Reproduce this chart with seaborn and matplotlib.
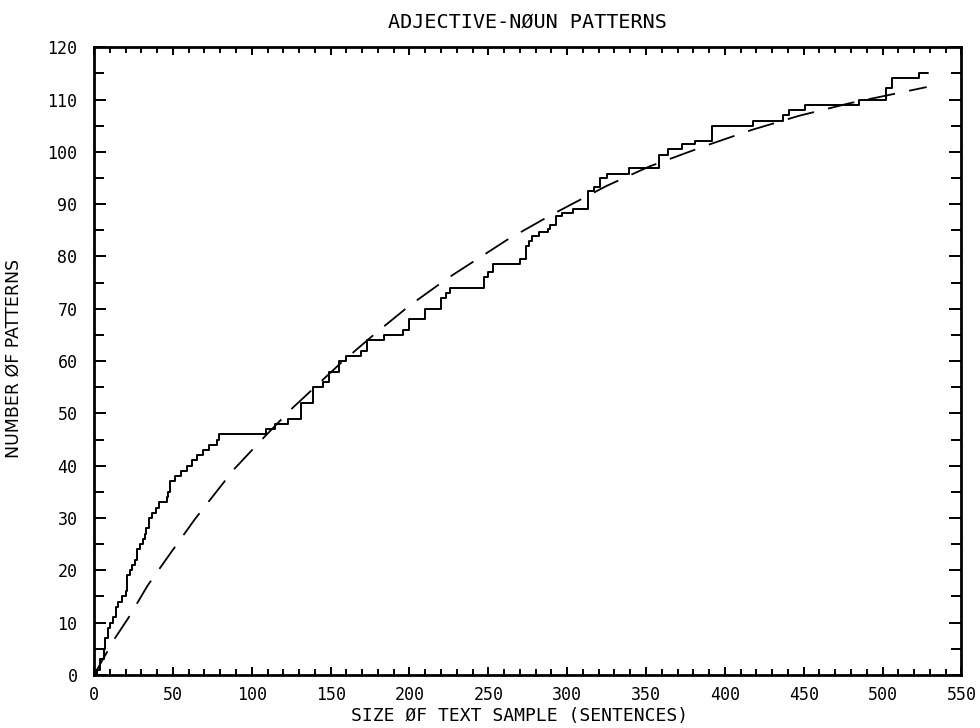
import pandas as pd
import seaborn as sns
from matplotlib import pyplot as plt
from matplotlib.ticker import MultipleLocator

# observed counts: sample size where the count steps up, and the new count
step_x = [0, 2, 4, 6, 7, 9, 10, 12, 14, 15, 18, 20, 21, 23, 24, 26, 27, 29, 31, 32,
          33, 35, 37, 39, 41, 46, 47, 48, 51, 55, 59, 62, 65, 69, 73, 78, 79, 109, 115, 123,
          131, 139, 145, 149, 155, 160, 169, 173, 184, 196, 200, 210, 220, 223, 226, 247, 250, 253, 270, 274,
          276, 278, 282, 288, 289, 293, 297, 304, 313, 317, 321, 325, 339, 358, 364, 373, 381, 392, 418, 437,
          441, 451, 485, 502, 506, 523, 529]
step_y = [0, 1, 3, 5, 7, 9, 10, 11, 13, 14, 15, 16, 19, 20, 21, 22, 24, 25, 26, 27,
          28, 30, 31, 32, 33, 34, 35, 37, 38, 39, 40, 41, 42, 43, 44, 45, 46, 47, 48, 49,
          52, 55, 56, 58, 60, 61, 62, 64, 65, 66, 68, 70, 72, 73, 74, 76, 77, 78.5, 79.5, 82,
          83, 84, 84.7, 85.3, 86, 87.7, 88.4, 89, 92.6, 93.2, 95, 95.8, 97, 99.5, 100.5, 101.5, 102, 105, 106, 107,
          108, 109, 110, 112.3, 114.2, 115, 115]

# fitted curve (dashed)
fit_x = [0, 13, 22, 34, 49, 64, 89, 108, 125, 156, 178, 200, 224, 262, 289,
         325, 352, 388, 417, 447, 479, 528]
fit_y = [0, 6.9, 11.0, 17.1, 23.5, 29.8, 39.4, 45.5, 50.8, 59.5, 65.2, 70.6, 75.8, 83.2, 87.8,
         93.5, 97.2, 101.2, 104.2, 106.9, 109.3, 112.4]

TITLE = 'ADJECTIVE-NØUN PATTERNS'
XLABEL = 'SIZE ØF TEXT SAMPLE (SENTENCES)'
YLABEL = 'NUMBER ØF PATTERNS'

sns.set_theme(style='ticks')
plt.rcParams['font.family'] = ['DejaVu Sans Mono', 'DejaVu Sans']
plt.rcParams['text.color'] = 'black'
plt.rcParams['axes.labelcolor'] = 'black'
plt.rcParams['xtick.color'] = 'black'
plt.rcParams['ytick.color'] = 'black'

fig = plt.figure(figsize=(9.8, 7.28), dpi=100)
ax = fig.add_axes([0.096, 0.073, 0.885, 0.862])

steps = pd.DataFrame({'size': step_x, 'patterns': step_y})
fit = pd.DataFrame({'size': fit_x, 'patterns': fit_y})

sns.lineplot(data=steps, x='size', y='patterns', ax=ax, color='black', linewidth=1.4,
             estimator=None, sort=False, drawstyle='steps-post')
sns.lineplot(data=fit, x='size', y='patterns', ax=ax, color='black', linewidth=1.3,
             estimator=None, sort=False, linestyle=(0, (15, 8)))

ax.set_xlim(0, 550)
ax.set_ylim(0, 120)
ax.xaxis.set_major_locator(MultipleLocator(50))
ax.xaxis.set_minor_locator(MultipleLocator(10))
ax.yaxis.set_major_locator(MultipleLocator(10))
ax.yaxis.set_minor_locator(MultipleLocator(5))

for side in ['top', 'right', 'bottom', 'left']:
    ax.spines[side].set_visible(True)
    ax.spines[side].set_linewidth(2.0)
    ax.spines[side].set_color('black')

ax.tick_params(which='both', direction='in', top=True, right=True, color='black', width=1.4)
ax.tick_params(axis='x', which='major', length=6, pad=8, labelsize=12)
ax.tick_params(axis='x', which='minor', length=4)
ax.tick_params(axis='y', which='major', length=8.5, pad=12, labelsize=12)
ax.tick_params(axis='y', which='minor', length=7)

ax.set_title(TITLE, fontsize=14.5, pad=14, color='black')
ax.set_xlabel(XLABEL, fontsize=13)
ax.xaxis.set_label_coords(0.491, -0.052)
ax.set_ylabel(YLABEL, fontsize=12.5, family='DejaVu Sans')
ax.yaxis.set_label_coords(-0.082, 0.505)

fig.savefig('out.png', dpi=100)
